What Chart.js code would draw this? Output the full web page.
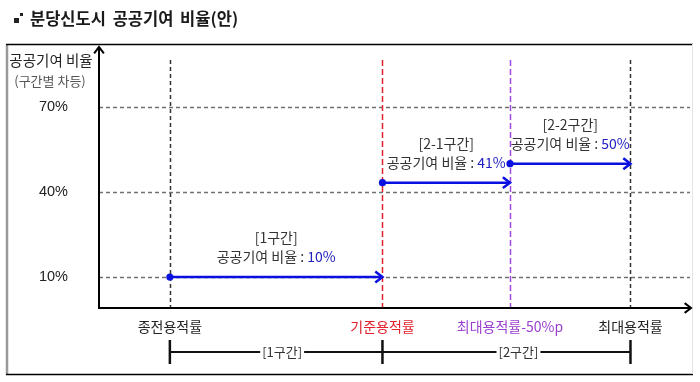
<!DOCTYPE html>
<html><head><meta charset="utf-8">
<script src="https://cdn.jsdelivr.net/npm/chart.js@4"></script>
<style>
html,body{margin:0;padding:0;background:#fff;width:700px;height:382px;overflow:hidden}
#wrap{position:relative;width:700px;height:382px}
canvas{position:absolute;left:0;top:0}
#title{position:absolute;left:30px;top:6px;font:bold 16.5px 'Noto Sans CJK KR',sans-serif;color:#1a1a1a;word-spacing:3px;white-space:nowrap}
.ic1{position:absolute;left:14px;top:18px;width:5px;height:5px;background:#222}
.ic2{position:absolute;left:20px;top:13px;width:3px;height:3px;background:#222}
</style></head><body>
<div id="wrap"><canvas id="c" width="700" height="382"></canvas>
<span class="ic1"></span><span class="ic2"></span><div id="title">분당신도시 공공기여 비율(안)</div></div>
<script>
const FONT = "'Noto Sans CJK KR', 'Noto Sans', sans-serif";
const NUMFONT = "'Liberation Sans', Arial, sans-serif";

// ---- data ----
const xPositions = [1, 4, 5.8, 7.5];
const xLabels = ['종전용적률', '기준용적률', '최대용적률-50%p', '최대용적률'];
const yTicks = [10, 40, 70];
const yTickLabels = ['10%', '40%', '70%'];
const yTitle = ['공공기여 비율', '(구간별 차등)'];
const sectionNames = ['[1구간]', '[2-1구간]', '[2-2구간]'];
const sectionStart = [1, 4, 5.8];
const sectionEnd = [4, 5.8, 7.5];
const sectionLevel = [10, 43.3, 50];
const sectionRateText = ['10%', '41%', '50%'];
const bracketNames = ['[1구간]', '[2구간]'];
const bracketStart = [1, 4];
const bracketEnd = [4, 7.5];

// ---- styles ----
const xLabelColors = ['#222222', '#e0202a', '#9a3fd0', '#222222'];
const xLineColors = ['#333333', '#e0202a', '#a04ae0', '#333333'];
const xLineDash = [[4, 3], [6, 3], [6, 3], [4, 3]];
const BLUE = '#0a10e0';
const RATE_BLUE = '#2020c0';
const bracketLabelShift = [6, 12];

const datasets = sectionNames.map((n, i) => ({
  label: n,
  data: [{x: sectionStart[i], y: sectionLevel[i]}, {x: sectionEnd[i], y: sectionLevel[i]}],
  borderColor: BLUE, backgroundColor: BLUE, borderWidth: 2.5,
  pointRadius: c => c.dataIndex === 0 ? 3.6 : 0, pointBorderWidth: 0,
  pointHoverRadius: 0, showLine: true, fill: false, tension: 0
}));

function line(ctx, x1, y1, x2, y2) { ctx.beginPath(); ctx.moveTo(x1, y1); ctx.lineTo(x2, y2); ctx.stroke(); }
function chevron(ctx, x, y, ang, size, color, lw) {
  const h = 0.65;
  ctx.save(); ctx.setLineDash([]); ctx.strokeStyle = color; ctx.lineWidth = lw; ctx.lineJoin = 'miter'; ctx.lineCap = 'butt';
  ctx.beginPath();
  ctx.moveTo(x - size * Math.cos(ang - h), y - size * Math.sin(ang - h));
  ctx.lineTo(x, y);
  ctx.lineTo(x - size * Math.cos(ang + h), y - size * Math.sin(ang + h));
  ctx.stroke(); ctx.restore();
}

const deco = {
  id: 'deco',
  beforeDraw(chart) {
    const ctx = chart.ctx; ctx.save();
    ctx.strokeStyle = '#9a9a9a'; ctx.lineWidth = 2.5; line(ctx, 7, 44, 7, 375);
    ctx.strokeStyle = '#000'; ctx.lineWidth = 1.5; line(ctx, 6, 44.5, 693, 44.5); line(ctx, 6, 374.5, 693, 374.5);
    ctx.strokeStyle = '#e4e4e4'; ctx.lineWidth = 1; line(ctx, 692.5, 44, 692.5, 374);
    ctx.restore();
  },
  beforeDatasetsDraw(chart) {
    const {ctx, chartArea: a, scales: {x, y}} = chart;
    ctx.save();
    ctx.lineWidth = 1.3; ctx.strokeStyle = '#707070'; ctx.setLineDash([4, 3]);
    yTicks.forEach(v => { const py = Math.round(y.getPixelForValue(v)) + 0.5; line(ctx, a.left, py, a.right, py); });
    xPositions.forEach((v, i) => {
      const px = Math.round(x.getPixelForValue(v)) + 0.5;
      ctx.strokeStyle = xLineColors[i]; ctx.lineWidth = 1.5; ctx.setLineDash(xLineDash[i]);
      line(ctx, px, a.top, px, a.bottom);
    });
    ctx.setLineDash([]); ctx.strokeStyle = '#000'; ctx.lineWidth = 2;
    line(ctx, a.left, a.bottom, a.left, a.top - 13);
    line(ctx, a.left - 1, a.bottom, a.right + 1, a.bottom);
    chevron(ctx, a.left, a.top - 13, -Math.PI / 2, 8, '#000', 2);
    chevron(ctx, a.right + 1, a.bottom, 0, 8, '#000', 2);
    ctx.restore();
  },
  afterDatasetsDraw(chart) {
    const {ctx, chartArea: a, scales: {x, y}} = chart;
    ctx.save();
    chart.data.datasets.forEach((ds, i) => {
      const pts = chart.getDatasetMeta(i).data;
      const p = pts[pts.length - 1];
      chevron(ctx, p.x, p.y, 0, 9, BLUE, 2.5);
    });
    ctx.textAlign = 'center'; ctx.textBaseline = 'middle';
    sectionNames.forEach((n, i) => {
      const cx = (x.getPixelForValue(sectionStart[i]) + x.getPixelForValue(sectionEnd[i])) / 2;
      const ly = y.getPixelForValue(sectionLevel[i]);
      ctx.font = '14px ' + FONT; ctx.fillStyle = '#333';
      ctx.fillText(n, cx, ly - 39);
      const pre = '공공기여 비율 : ';
      const w1 = ctx.measureText(pre).width, w2 = ctx.measureText(sectionRateText[i]).width;
      const sx = cx - (w1 + w2) / 2;
      ctx.textAlign = 'left';
      ctx.fillStyle = '#333'; ctx.fillText(pre, sx, ly - 20);
      ctx.fillStyle = RATE_BLUE; ctx.fillText(sectionRateText[i], sx + w1, ly - 20);
      ctx.textAlign = 'center';
    });
    ctx.fillStyle = '#222'; ctx.font = '14.5px ' + FONT;
    ctx.fillText(yTitle[0], a.left - 48, a.top);
    ctx.fillStyle = '#555'; ctx.font = '13px ' + FONT;
    ctx.fillText(yTitle[1], a.left - 49, a.top + 21);
    const by = a.bottom + 44;
    ctx.strokeStyle = '#111'; ctx.lineWidth = 2;
    const bx1 = x.getPixelForValue(bracketStart[0]), bx2 = x.getPixelForValue(bracketEnd[bracketEnd.length - 1]);
    line(ctx, bx1, by, bx2, by);
    const tickXs = [...new Set([...bracketStart, ...bracketEnd])];
    ctx.lineWidth = 2.5;
    tickXs.forEach(v => { const px = x.getPixelForValue(v); line(ctx, px, by - 12, px, by + 12); });
    ctx.font = '13px ' + FONT;
    bracketNames.forEach((n, i) => {
      const cx = (x.getPixelForValue(bracketStart[i]) + x.getPixelForValue(bracketEnd[i])) / 2 + bracketLabelShift[i];
      const w = ctx.measureText(n).width;
      ctx.fillStyle = '#fff'; ctx.fillRect(cx - w / 2 - 2, by - 8, w + 4, 16);
      ctx.fillStyle = '#333'; ctx.fillText(n, cx, by);
    });
    ctx.restore();
  }
};

new Chart(document.getElementById('c'), {
  type: 'scatter',
  data: {datasets},
  options: {
    responsive: false, animation: false,
    layout: {padding: {left: 0, top: 60, right: 10, bottom: 0}},
    plugins: {legend: {display: false}, tooltip: {enabled: false}, title: {display: false}},
    scales: {
      x: {
        type: 'linear', min: 0, max: 8.34,
        afterBuildTicks: s => { s.ticks = xPositions.map(v => ({value: v})); },
        afterFit: s => { s.height = 74; },
        grid: {display: false, drawTicks: false}, border: {display: false},
        ticks: {autoSkip: false, maxRotation: 0, padding: 10,
          font: {family: FONT, size: 14},
          color: c => xLabelColors[c.index],
          callback: (v, i) => xLabels[i]}
      },
      y: {
        type: 'linear', min: -0.94, max: 86.6,
        afterBuildTicks: s => { s.ticks = yTicks.map(v => ({value: v})); },
        afterFit: s => { s.width = 99; },
        grid: {display: false, drawTicks: false}, border: {display: false},
        ticks: {padding: 31, font: {family: NUMFONT, size: 14.5}, color: '#222',
          callback: (v, i) => yTickLabels[i]}
      }
    }
  },
  plugins: [deco]
});
</script>
</body></html>
